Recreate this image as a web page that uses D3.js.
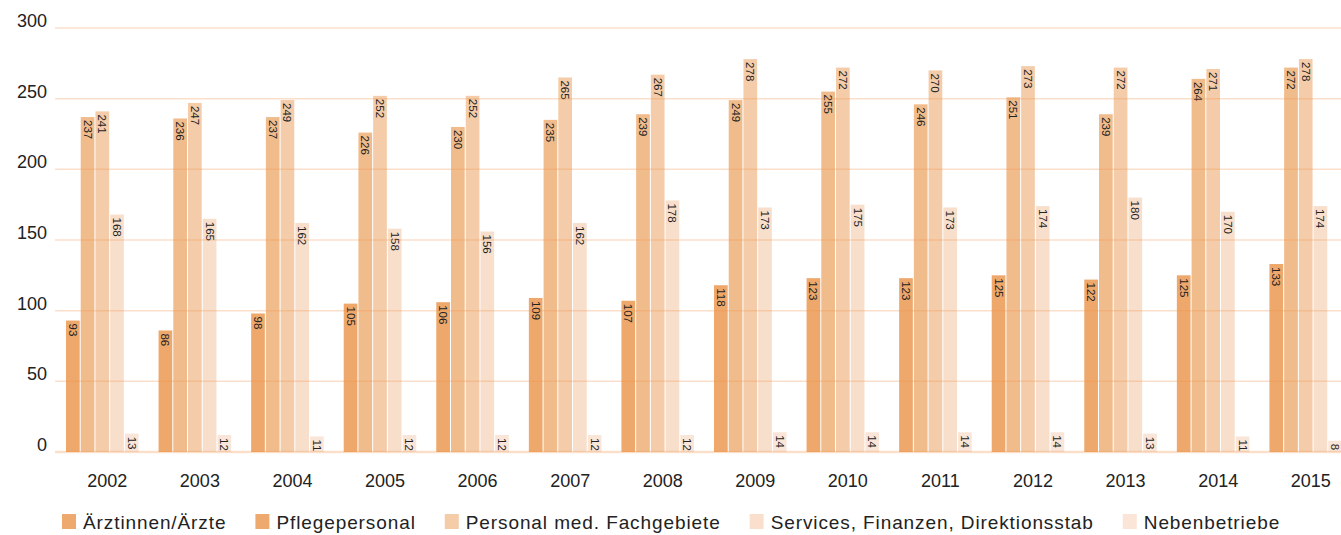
<!DOCTYPE html>
<html>
<head>
<meta charset="utf-8">
<script src="https://cdn.jsdelivr.net/npm/d3@7"></script>
<style>
  body { margin: 0; background: #fff; }
  text { font-family: "Liberation Sans", Arial, sans-serif; fill: #222; }
</style>
</head>
<body>
<div id="chart"></div>
<script>
var years = [2002, 2003, 2004, 2005, 2006, 2007, 2008, 2009, 2010, 2011, 2012, 2013, 2014, 2015];
var seriesNames = ["Ärztinnen/Ärzte", "Pflegepersonal", "Personal med. Fachgebiete", "Services, Finanzen, Direktionsstab", "Nebenbetriebe"];
var aerzte   = [93, 86, 98, 105, 106, 109, 107, 118, 123, 123, 125, 122, 125, 133];
var pflege   = [237, 236, 237, 226, 230, 235, 239, 249, 255, 246, 251, 239, 264, 272];
var medFach  = [241, 247, 249, 252, 252, 265, 267, 278, 272, 270, 273, 272, 271, 278];
var services = [168, 165, 162, 158, 156, 162, 178, 173, 175, 173, 174, 180, 170, 174];
var neben    = [13, 12, 11, 12, 12, 12, 12, 14, 14, 14, 14, 13, 11, 8];
var yTicks = [0, 50, 100, 150, 200, 250, 300];

var allSeries = [aerzte, pflege, medFach, services, neben];
var colors = ["#eea86b", "#f1bc8c", "#f4cca9", "#f8dfcc", "#fae6d8"];
var legendColors = ["#eea96e", "#eea96e", "#f5cca8", "#fae0cc", "#fbe5d8"];

var width = 1341, height = 535;
var svg = d3.select("#chart").append("svg")
    .attr("width", width)
    .attr("height", height);

var y = d3.scaleLinear()
    .domain([0, 300])
    .range([452, 28]);

var x = d3.scaleBand()
    .domain(years)
    .range([66, 1342])
    .paddingInner(0.216)
    .paddingOuter(0);

var xs = d3.scaleBand()
    .domain(d3.range(seriesNames.length))
    .range([0, x.bandwidth()])
    .paddingInner(0.07);

// bars
var groups = svg.selectAll(".year")
    .data(years)
    .enter().append("g")
    .attr("class", "year")
    .attr("transform", function(d) { return "translate(" + x(d) + ",0)"; });

groups.each(function(yr, i) {
    var g = d3.select(this);
    var vals = allSeries.map(function(s, k) { return { k: k, v: s[i] }; });

    g.selectAll("rect")
        .data(vals)
        .enter().append("rect")
        .attr("x", function(d) { return xs(d.k); })
        .attr("y", function(d) { return y(d.v); })
        .attr("width", xs.bandwidth())
        .attr("height", function(d) { return y(0) - y(d.v); })
        .attr("fill", function(d) { return colors[d.k]; });

    g.selectAll("text.val")
        .data(vals)
        .enter().append("text")
        .attr("class", "val")
        .attr("transform", function(d) {
            return "translate(" + (xs(d.k) + xs.bandwidth() / 2) + "," + (y(d.v) + 3) + ") rotate(90)";
        })
        .attr("dominant-baseline", "central")
        .style("font-size", "11.5px")
        .text(function(d) { return d.v; });
});

// grid lines on top of the bars
svg.selectAll(".grid")
    .data(yTicks)
    .enter().append("line")
    .attr("class", "grid")
    .attr("x1", 55)
    .attr("x2", width)
    .attr("y1", function(d) { return y(d); })
    .attr("y2", function(d) { return y(d); })
    .attr("stroke", "rgba(240,150,80,0.3)")
    .attr("stroke-width", function(d) { return d === 0 ? 2.5 : 1.5; });

// y labels
svg.selectAll(".ylab")
    .data(yTicks)
    .enter().append("text")
    .attr("class", "ylab")
    .attr("x", 47)
    .attr("y", function(d) { return y(d) - 1; })
    .attr("text-anchor", "end")
    .style("font-size", "18px")
    .text(function(d) { return d; });

// x labels
var xAxis = d3.axisBottom(x).tickSize(0).tickPadding(0);
var xg = svg.append("g")
    .attr("transform", "translate(5,474)")
    .call(xAxis);
xg.select(".domain").remove();
xg.selectAll("text")
    .style("font-size", "18px")
    .style("font-family", "Liberation Sans, Arial, sans-serif")
    .attr("fill", "#222");

// legend
var lx = 62;
var legend = svg.append("g").attr("transform", "translate(0,513)");
seriesNames.forEach(function(name, k) {
    legend.append("rect")
        .attr("x", lx)
        .attr("y", 1)
        .attr("width", 14)
        .attr("height", 15)
        .attr("fill", legendColors[k]);
    var t = legend.append("text")
        .attr("x", lx + 21)
        .attr("y", 15.5)
        .style("font-size", "19px")
        .style("letter-spacing", "0.9px")
        .text(name);
    lx = lx + 21 + t.node().getComputedTextLength() + 29;
});
</script>
</body>
</html>
